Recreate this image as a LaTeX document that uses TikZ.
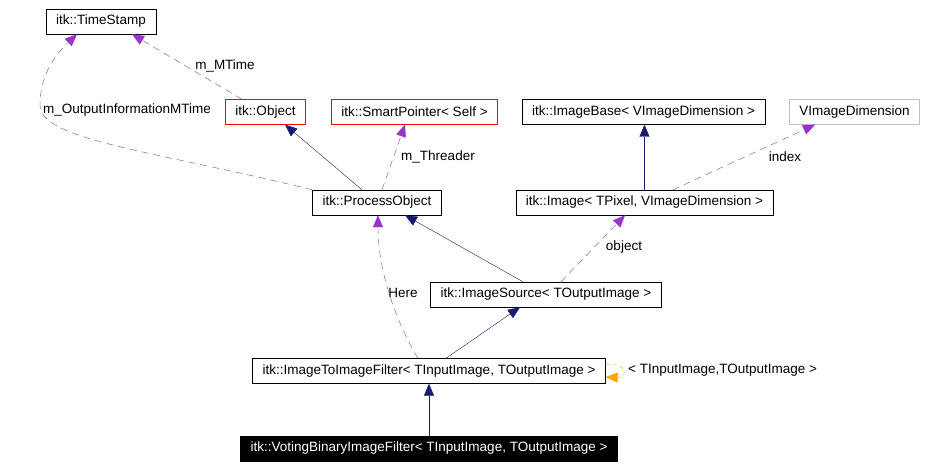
\documentclass[tikz,border=0pt]{standalone}
\usepackage{fontspec}
\setmainfont{Liberation Sans}
\usepackage{xcolor}
\usepackage{tikz}
\usetikzlibrary{arrows.meta}

\definecolor{edgeblue}{HTML}{191970}
\definecolor{edgepurple}{HTML}{9A32CD}
\definecolor{edgeorange}{HTML}{FFA500}
\definecolor{boxgray}{HTML}{BFBFBF}

\tikzset{
    cls/.style={draw=black, rectangle, minimum height=25pt, inner xsep=10pt, inner ysep=0pt, font=\fontsize{13.5}{15}\selectfont},
    redcls/.style={cls, draw=red},
    graycls/.style={cls, draw=boxgray},
    curcls/.style={cls, fill=black, text=white},
    inherit/.style={draw=edgeblue, -{Triangle[length=12pt,width=10pt]}},
    usage/.style={draw=edgepurple, dash pattern=on 7pt off 5pt, -{Triangle[length=12pt,width=10pt,fill=edgepurple]}},
    tmpl/.style={draw=edgeorange, dash pattern=on 4pt off 3pt, -{Triangle[length=12pt,width=10pt,fill=edgeorange]}},
    lbl/.style={font=\fontsize{13.5}{15}\selectfont, inner sep=0pt}
}

\begin{document}
\begin{tikzpicture}[x=1pt, y=-1pt]
        \useasboundingbox (0,0) rectangle (927,468);

        \node[cls] (ts) at (101,21.5) {itk::TimeStamp};
        \node[redcls] (obj) at (265.5,112) {itk::Object};
        \node[redcls] (sp) at (414.5,112) {itk::SmartPointer< Self >};
        \node[cls] (ib) at (643.5,112) {itk::ImageBase< VImageDimension >};
        \node[graycls] (vid) at (854.5,112) {VImageDimension};
        \node[cls] (po) at (377,202.5) {itk::ProcessObject};
        \node[cls] (img) at (644.5,202.5) {itk::Image< TPixel, VImageDimension >};
        \node[cls] (is) at (546,294.5) {itk::ImageSource< TOutputImage >};
        \node[cls] (itif) at (429,371) {itk::ImageToImageFilter< TInputImage, TOutputImage >};
        \node[curcls] (vb) at (429,448.5) {itk::VotingBinaryImageFilter< TInputImage, TOutputImage >};

        \draw[usage] ([xshift=-23.5pt]obj.north) -- ([xshift=31pt]ts.south);
        \node[lbl] (lmtime) at (225,66) {m\_MTime};
        \draw[usage] (po.north west) .. controls (150,150) and (40,140) .. (40,105)
            .. controls (40,75) and (55,55) .. ([xshift=-24pt]ts.south);
        \node[lbl] (loutinfo) at (127,110) {m\_OutputInformationMTime};
        \draw[inherit] ([xshift=-15pt]po.north) -- ([xshift=19.5pt]obj.south);
        \draw[usage] ([xshift=5pt]po.north) -- ([xshift=-9.5pt]sp.south);
        \node[lbl] (lthreader) at (438,157) {m\_Threader};
        \draw[inherit] (img.north) -- (img.north |- ib.south);
        \draw[usage] ([xshift=28.5pt]img.north) -- ([xshift=-39.5pt]vid.south);
        \node[lbl] (lindex) at (785,157) {index};
        \draw[inherit] ([xshift=-23pt]is.north) -- ([xshift=28pt]po.south);
        \draw[usage] ([xshift=15pt]is.north) -- ([xshift=-19.5pt]img.south);
        \node[lbl] (lobject) at (624,247) {object};
        \draw[inherit] ([xshift=17pt]itif.north) -- ([xshift=-26pt]is.south);
        \draw[usage] ([xshift=-11pt]itif.north) .. controls (395,320) and (378,270) .. ([xshift=1pt]po.south);
        \node[lbl] (lhere) at (403,293) {Here};
        \draw[tmpl] ([yshift=6pt]itif.east) .. controls (628,362) and (628,378) .. ([yshift=-6pt]itif.east);
        \node[lbl, anchor=west] (lloop) at (628,370) {< TInputImage,TOutputImage >};
        \draw[inherit] (vb.north) -- (itif.south);
    \end{tikzpicture}
\end{document}
